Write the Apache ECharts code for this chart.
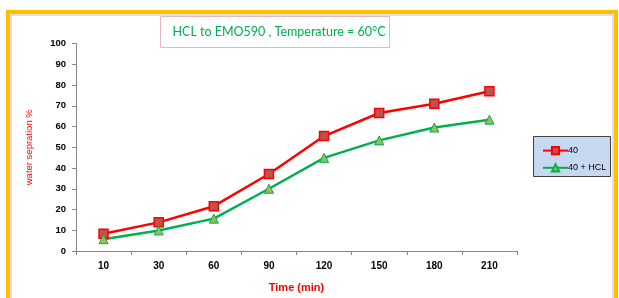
<!DOCTYPE html>
<html>
<head>
<meta charset="utf-8">
<script src="https://cdn.jsdelivr.net/npm/echarts@6/dist/echarts.min.js"></script>
<style>
  html, body { margin: 0; padding: 0; background: #fff; }
  #main { width: 619px; height: 298px; }
</style>
</head>
<body>
<div id="main"></div>
<script>
// time points (min)
const times = ["10", "30", "60", "90", "120", "150", "180", "210"];
// water separation %
const sep40 = [8.3, 13.8, 21.6, 37.1, 55.4, 66.5, 71, 77];
const sep40Hcl = [5.7, 9.9, 15.6, 30, 44.9, 53.3, 59.5, 63.3];

const chart = echarts.init(document.getElementById("main"), null, { renderer: "canvas" });

chart.setOption({
  animation: false,
  backgroundColor: "#fff",
  graphic: [
    {
      type: "rect",
      shape: { x: 8, y: 12, width: 608, height: 292 },
      style: { fill: "none", stroke: "#FFC000", lineWidth: 4 },
      silent: true
    },
    {
      type: "rect",
      shape: { x: 11, y: 15, width: 602, height: 290 },
      style: { fill: "none", stroke: "#BFBFBF", lineWidth: 1 },
      silent: true
    },
    {
      type: "rect",
      shape: { x: 160.5, y: 16.5, width: 229, height: 31 },
      style: { fill: "#fff", stroke: "#E6B9B8", lineWidth: 1 },
      silent: true
    },
    {
      type: "rect",
      shape: { x: 533.5, y: 136.5, width: 77, height: 40 },
      style: { fill: "#C6D9F1", stroke: "#404040", lineWidth: 1 },
      silent: true,
      z: 0
    }
  ],
  title: {
    text: "HCL to EMO590 , Temperature = 60°C",
    left: 274,
    top: 20,
    textAlign: "center",
    textStyle: {
      color: "#00B050",
      fontFamily: "Lato",
      fontSize: 12.5,
      fontWeight: "normal"
    }
  },
  legend: {
    orient: "vertical",
    left: 537,
    top: 141,
    itemWidth: 25,
    itemHeight: 9,
    itemGap: 8,
    z: 5,
    textStyle: { fontFamily: "Arial", fontSize: 9, color: "#000", padding: [0, 0, 0, -5] },
    data: ["40", "40 + HCL"]
  },
  grid: {
    left: 76,
    top: 43.5,
    width: 441,
    height: 209.5
  },
  xAxis: {
    type: "category",
    data: times,
    boundaryGap: true,
    name: "Time (min)",
    nameLocation: "middle",
    nameGap: 31,
    nameTextStyle: { color: "#FF0000", fontWeight: "bold", fontFamily: "Arial", fontSize: 11 },
    axisLine: { lineStyle: { color: "#868686", width: 1 } },
    axisTick: { show: true, length: 4, lineStyle: { color: "#868686" } },
    axisLabel: { color: "#000", fontWeight: "bold", fontFamily: "Arial", fontSize: 10, margin: 10 },
    splitLine: { show: false }
  },
  yAxis: {
    type: "value",
    min: 0,
    max: 100,
    interval: 10,
    name: "water sepration %",
    nameLocation: "middle",
    nameGap: 42,
    nameRotate: 90,
    nameTextStyle: { color: "#FF0000", fontFamily: "Arial", fontSize: 9.5 },
    axisLine: { show: true, lineStyle: { color: "#868686", width: 1 } },
    axisTick: { show: true, length: 4, lineStyle: { color: "#868686" } },
    axisLabel: { color: "#000", fontWeight: "bold", fontFamily: "Arial", fontSize: 9.5, margin: 10 },
    splitLine: { show: false }
  },
  series: [
    {
      name: "40",
      type: "line",
      data: sep40,
      symbol: "rect",
      symbolSize: 9,
      lineStyle: { color: "#FF0000", width: 2.5 },
      itemStyle: { color: "#C0504D", borderColor: "#FF0000", borderWidth: 1.5 }
    },
    {
      name: "40 + HCL",
      type: "line",
      data: sep40Hcl,
      symbol: "triangle",
      symbolSize: 9,
      lineStyle: { color: "#00B050", width: 2.5 },
      itemStyle: { color: "#9BBB59", borderColor: "#00B050", borderWidth: 1 }
    }
  ]
});
</script>
</body>
</html>
